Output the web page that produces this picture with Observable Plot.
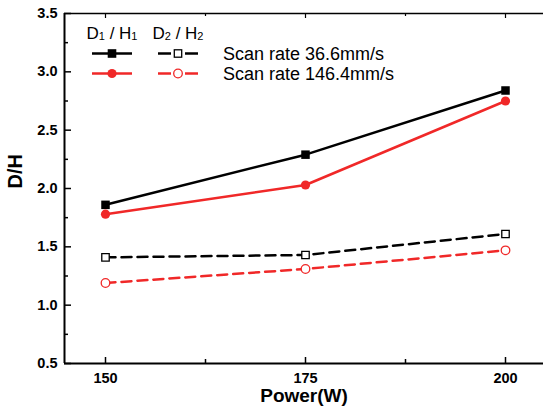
<!DOCTYPE html>
<html><head><meta charset="utf-8">
<script src="https://cdn.jsdelivr.net/npm/d3@7"></script>
<script src="https://cdn.jsdelivr.net/npm/@observablehq/plot@0.6"></script>
<style>
body{margin:0;background:#fff}
svg{display:block;font-family:"Liberation Sans",Arial,sans-serif}
</style>
</head><body><div id="chart"></div>
<script>
// ---- data ----
const power = [150, 175, 200];
const d1h1Rate36 = [1.86, 2.29, 2.84];
const d1h1Rate146 = [1.78, 2.03, 2.75];
const d2h2Rate36 = [1.41, 1.43, 1.61];
const d2h2Rate146 = [1.19, 1.31, 1.47];
const xTicks = [150, 175, 200];
const xMinorTicks = [162.5, 187.5];
const yTicks = [0.5, 1.0, 1.5, 2.0, 2.5, 3.0, 3.5];
const yMinorTicks = [0.75, 1.25, 1.75, 2.25, 2.75, 3.25];
const legendHeaders = ["D1 / H1", "D2 / H2"];
const legendLabels = ["Scan rate 36.6mm/s", "Scan rate 146.4mm/s"];
const xTitle = "Power(W)";
const yTitle = "D/H";

// ---- layout ----
const W = 543, H = 412, mL = 64, mR = 0, mT = 13, mB = 49;
const fw = W - mL - mR, fh = H - mT - mB;
const xDomain = [144.875, 204.75];
const yDomain = [0.5, 3.5];
const RED = "#f02828";

const rows = (vals) => power.map((p, i) => ({power: p, v: vals[i]}));
const s1 = rows(d1h1Rate36), s2 = rows(d1h1Rate146), s3 = rows(d2h2Rate36), s4 = rows(d2h2Rate146);
const LW = 2.5, DASH = "10,6";

const chart = Plot.plot({
  width: W, height: H,
  marginLeft: mL, marginRight: mR, marginTop: mT, marginBottom: mB,
  style: {background: "#fff", fontFamily: "'Liberation Sans', Arial, sans-serif", color: "#000"},
  x: {domain: xDomain},
  y: {domain: yDomain},
  marks: [
    // axis lines
    Plot.ruleY([yDomain[0]], {stroke: "#000", strokeWidth: 2}),
    Plot.ruleY([yDomain[1]], {stroke: "#000", strokeWidth: 1.5}),
    Plot.ruleX([xDomain[0]], {stroke: "#000", strokeWidth: 2}),
    // inward ticks
    Plot.tickX(xTicks, {x: d => d, insetTop: fh - 6, stroke: "#000", strokeWidth: 1.5}),
    Plot.tickX(xMinorTicks, {x: d => d, insetTop: fh - 4, stroke: "#000", strokeWidth: 1.5}),
    Plot.tickX(xTicks, {x: d => d, insetBottom: fh - 5, stroke: "#000", strokeWidth: 1.2}),
    Plot.tickX(xMinorTicks, {x: d => d, insetBottom: fh - 3, stroke: "#000", strokeWidth: 1.2}),
    Plot.tickY(yTicks, {y: d => d, insetRight: fw - 7, stroke: "#000", strokeWidth: 1.5}),
    Plot.tickY(yMinorTicks, {y: d => d, insetRight: fw - 4, stroke: "#000", strokeWidth: 1.5}),
    // tick labels
    Plot.axisX({ticks: xTicks, tickSize: 0, tickPadding: 9, fontSize: 14.5, fontWeight: "bold", label: null}),
    Plot.axisY({ticks: yTicks, tickSize: 0, tickPadding: 7, tickFormat: d3.format(".1f"), fontSize: 14.5, fontWeight: "bold", label: null}),
    // titles
    Plot.text([xTitle], {text: d => d, frameAnchor: "bottom", dy: 38, fontSize: 19, fontWeight: "bold"}),
    Plot.text([yTitle], {text: d => d, frameAnchor: "left", dx: -49, rotate: -90, fontSize: 20, fontWeight: "bold"}),
    // series lines
    Plot.line(s1, {x: "power", y: "v", stroke: "#000", strokeWidth: LW}),
    Plot.line(s2, {x: "power", y: "v", stroke: RED, strokeWidth: LW}),
    Plot.line(s3, {x: "power", y: "v", stroke: "#000", strokeWidth: LW, strokeDasharray: DASH}),
    Plot.line(s4, {x: "power", y: "v", stroke: RED, strokeWidth: LW, strokeDasharray: DASH}),
    // markers
    Plot.dot(s1, {x: "power", y: "v", symbol: "square", r: 4.8, fill: "#000"}),
    Plot.dot(s2, {x: "power", y: "v", symbol: "circle", r: 4.6, fill: RED}),
    Plot.dot(s3, {x: "power", y: "v", symbol: "square", r: 4.2, fill: "#fff", stroke: "#000", strokeWidth: 1.3}),
    Plot.dot(s4, {x: "power", y: "v", symbol: "circle", r: 4.3, fill: "#fff", stroke: RED, strokeWidth: 1.3})
  ]
});

// ---- legend ----
const svg = d3.select(chart);
const lg = svg.append("g").attr("font-family", "'Liberation Sans', Arial, sans-serif").attr("fill", "#000");
const colX = [112, 178];
legendHeaders.forEach((h, i) => {
  const t = lg.append("text").attr("x", colX[i]).attr("y", 38.5).attr("text-anchor", "middle").attr("font-size", 17);
  const [a, b] = h.split(" / ");
  t.append("tspan").text(a[0]);
  t.append("tspan").text(a.slice(1)).attr("font-size", 11).attr("dy", 1);
  t.append("tspan").text(" / ").attr("dy", -1);
  t.append("tspan").text(b[0]);
  t.append("tspan").text(b.slice(1)).attr("font-size", 11).attr("dy", 1);
});
const rowY = [53.5, 73.5];
const rowColor = ["#000", RED];
rowY.forEach((y, r) => {
  const c = rowColor[r];
  lg.append("line").attr("x1", colX[0] - 20).attr("x2", colX[0] + 20).attr("y1", y).attr("y2", y).attr("stroke", c).attr("stroke-width", LW);
  lg.append("line").attr("x1", colX[1] - 20).attr("x2", colX[1] - 7).attr("y1", y).attr("y2", y).attr("stroke", c).attr("stroke-width", LW);
  lg.append("line").attr("x1", colX[1] + 7).attr("x2", colX[1] + 20).attr("y1", y).attr("y2", y).attr("stroke", c).attr("stroke-width", LW);
  if (r === 0) {
    lg.append("rect").attr("x", colX[0] - 4.3).attr("y", y - 4.3).attr("width", 8.6).attr("height", 8.6).attr("fill", "#000");
    lg.append("rect").attr("x", colX[1] - 3.7).attr("y", y - 3.7).attr("width", 7.4).attr("height", 7.4).attr("fill", "#fff").attr("stroke", "#000").attr("stroke-width", 1.3);
  } else {
    lg.append("circle").attr("cx", colX[0]).attr("cy", y).attr("r", 4.6).attr("fill", RED);
    lg.append("circle").attr("cx", colX[1]).attr("cy", y).attr("r", 4.3).attr("fill", "#fff").attr("stroke", RED).attr("stroke-width", 1.3);
  }
  lg.append("text").attr("x", 223).attr("y", y).attr("dy", "0.36em").attr("text-anchor", "start").attr("font-size", 18).text(legendLabels[r]);
});

document.getElementById("chart").appendChild(chart);
</script>
</body></html>
